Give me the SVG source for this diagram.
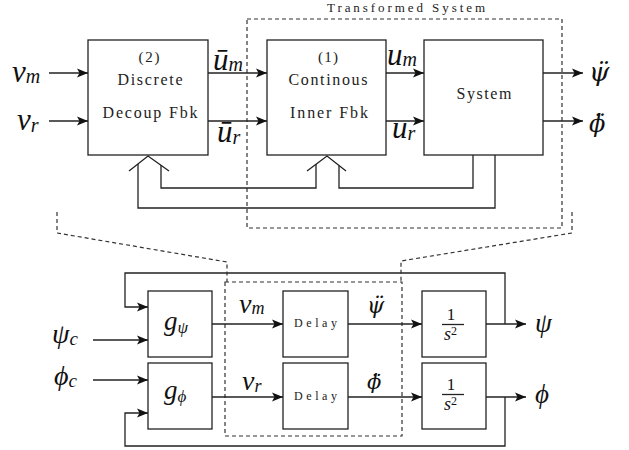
<svg xmlns="http://www.w3.org/2000/svg" width="629" height="450" viewBox="0 0 629 450">
<style>
.box{fill:none;stroke:#222;stroke-width:1.3}
.ln{fill:none;stroke:#222;stroke-width:1.3}
.dash{fill:none;stroke:#333;stroke-width:1.2;stroke-dasharray:4 3}
.lbl{font-family:"Liberation Serif",serif;fill:#222;text-anchor:middle}
.mi{font-family:"Liberation Serif",serif;font-style:italic;fill:#111}
.rm{font-family:"Liberation Serif",serif;fill:#111;font-style:normal}
.dd{font-family:"DejaVu Serif",serif;font-style:italic;fill:#111}
</style>
<defs>
<marker id="ah" markerWidth="12" markerHeight="10" refX="11" refY="5" orient="auto" markerUnits="userSpaceOnUse">
<path d="M0,0.5 L11,5 L0,9.5 L2.5,5 z" fill="#111"/>
</marker>
</defs>
<rect width="629" height="450" fill="#fff"/>

<g id="transformed-system">
<rect class="dash" x="247" y="19" width="315" height="209"/>
<text class="lbl" x="406" y="12" font-size="13" textLength="158" lengthAdjust="spacing">Transformed System</text>
</g>

<g id="decoup">
<rect class="box" x="88" y="40" width="120" height="115"/>
<text class="lbl" x="149" y="62" font-size="15" textLength="21" lengthAdjust="spacing">(2)</text>
<text class="lbl" x="150" y="85" font-size="16" textLength="65" lengthAdjust="spacing">Discrete</text>
<text class="lbl" x="150" y="118" font-size="16" textLength="95" lengthAdjust="spacing">Decoup Fbk</text>
</g>

<g id="inner">
<rect class="box" x="267" y="40" width="119" height="115"/>
<text class="lbl" x="328" y="62" font-size="15" textLength="20" lengthAdjust="spacing">(1)</text>
<text class="lbl" x="328" y="85" font-size="16" textLength="79" lengthAdjust="spacing">Continous</text>
<text class="lbl" x="329" y="118" font-size="16" textLength="78" lengthAdjust="spacing">Inner Fbk</text>
</g>

<g id="system">
<rect class="box" x="424" y="40" width="119" height="115"/>
<text class="lbl" x="484" y="99" font-size="16" textLength="55" lengthAdjust="spacing">System</text>
</g>

<g id="g-psi">
<rect class="box" x="148" y="291" width="64" height="66"/>
<text class="mi" x="164" y="330" font-size="27">g<tspan font-size="17" dy="3">ψ</tspan></text>
</g>
<g id="g-phi">
<rect class="box" x="148" y="363" width="64" height="66"/>
<text class="mi" x="164" y="399" font-size="27">g<tspan font-size="17" dy="3">ϕ</tspan></text>
</g>
<g id="delay1">
<rect class="box" x="283" y="291" width="65" height="66"/>
<text class="lbl" x="315.5" y="327" font-size="12" textLength="43" lengthAdjust="spacing">Delay</text>
</g>
<g id="delay2">
<rect class="box" x="283" y="363" width="65" height="66"/>
<text class="lbl" x="315.5" y="400" font-size="12" textLength="43" lengthAdjust="spacing">Delay</text>
</g>
<g id="int1">
<rect class="box" x="422" y="291" width="64" height="66"/>
<line class="ln" x1="442" y1="324.5" x2="464" y2="324.5" stroke-width="1.5"/>
<text class="rm" x="451" y="320" font-size="17" text-anchor="middle">1</text>
<text class="mi" x="444" y="340" font-size="18">s<tspan class="rm" font-size="12" dy="-5">2</tspan></text>
</g>
<g id="int2">
<rect class="box" x="422" y="363" width="64" height="66"/>
<line class="ln" x1="442" y1="394.5" x2="464" y2="394.5" stroke-width="1.5"/>
<text class="rm" x="451" y="390" font-size="17" text-anchor="middle">1</text>
<text class="mi" x="444" y="410" font-size="18">s<tspan class="rm" font-size="12" dy="-5">2</tspan></text>
</g>

<g id="lower-dashed">
<rect class="dash" x="225" y="282" width="177" height="154"/>
</g>

<g id="connectors">
<path class="ln" d="M49,73 H88" marker-end="url(#ah)"/>
<path class="ln" d="M49,121 H88" marker-end="url(#ah)"/>
<path class="ln" d="M208,73 H267" marker-end="url(#ah)"/>
<path class="ln" d="M208,121 H267" marker-end="url(#ah)"/>
<path class="ln" d="M386,73 H424" marker-end="url(#ah)"/>
<path class="ln" d="M386,121 H424" marker-end="url(#ah)"/>
<path class="ln" d="M543,73 H583" marker-end="url(#ah)"/>
<path class="ln" d="M543,121 H583" marker-end="url(#ah)"/>
<path class="ln" d="M473,155 V188 H339 V165.5"/>
<path class="ln" d="M307,171 L327,156 L346,171"/>
<path class="ln" d="M316,164 V188 H161 V165"/>
<path class="ln" d="M129,171 L148,156 L169,171"/>
<path class="ln" d="M495,155 V208 H138 V164"/>

<path class="ln" d="M212,324 H283" marker-end="url(#ah)"/>
<path class="ln" d="M348,324 H422" marker-end="url(#ah)"/>
<path class="ln" d="M486,324 H526" marker-end="url(#ah)"/>
<path class="ln" d="M212,397 H283" marker-end="url(#ah)"/>
<path class="ln" d="M348,397 H422" marker-end="url(#ah)"/>
<path class="ln" d="M486,397 H526" marker-end="url(#ah)"/>
<path class="ln" d="M93,340 H148" marker-end="url(#ah)"/>
<path class="ln" d="M93,380 H148" marker-end="url(#ah)"/>
<path class="ln" d="M505,324 V273 H125 V307 H148" marker-end="url(#ah)"/>
<path class="ln" d="M505,397 V446 H125 V413 H148" marker-end="url(#ah)"/>

<path class="dash" d="M57,212 V233 L227,262 V282"/>
<path class="dash" d="M572,212 V233 L401,261 V282"/>
</g>

<g id="labels">
<text class="mi" x="12" y="82" font-size="31">v<tspan font-size="20" dy="1">m</tspan></text>
<text class="mi" x="17" y="130" font-size="31">v<tspan font-size="20" dy="2">r</tspan></text>
<text class="mi" x="213" y="70" font-size="31">ū<tspan font-size="20" dy="1">m</tspan></text>
<text class="mi" x="217" y="142" font-size="31">ū<tspan font-size="20" dy="2">r</tspan></text>
<text class="mi" x="387" y="65" font-size="31">u<tspan font-size="20" dy="1">m</tspan></text>
<text class="mi" x="392" y="138" font-size="31">u<tspan font-size="20" dy="2">r</tspan></text>
<text class="dd" x="589" y="81" font-size="26">ψ̈</text>
<text class="dd" x="589" y="132" font-size="24" dy="0 -6">ϕ̈</text>

<text class="mi" x="239" y="313" font-size="28">v<tspan font-size="18" dy="1">m</tspan></text>
<text class="mi" x="242" y="390" font-size="28">v<tspan font-size="18" dy="2">r</tspan></text>
<text class="dd" x="367" y="313" font-size="22">ψ̈</text>
<text class="dd" x="367" y="389" font-size="21" dy="0 -5">ϕ̈</text>
<text class="mi" x="52" y="343" font-size="28">ψ<tspan font-size="19" dy="2">c</tspan></text>
<text class="mi" x="54" y="385" font-size="28">ϕ<tspan font-size="19" dy="2">c</tspan></text>
<text class="mi" x="535" y="332" font-size="27">ψ</text>
<text class="mi" x="535" y="403" font-size="27">ϕ</text>
</g>
</svg>
